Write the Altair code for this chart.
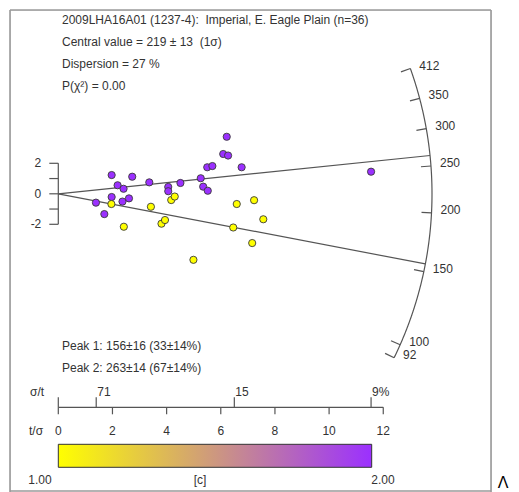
import altair as alt
import numpy as np
import pandas as pd

# ---------------- data ----------------
purple_tsig = [1.39, 1.70, 1.97, 2.19, 2.41, 1.97, 2.37, 2.61, 2.73, 3.36, 4.06, 4.06,
               4.51, 5.26, 5.35, 5.52, 5.50, 5.69, 6.09, 6.27, 6.22, 6.77, 11.55]
purple_z = [-0.58, -1.33, 1.23, 0.56, 0.33, -0.21, -0.51, -0.30, 1.12, 0.75, 0.45, 0.17,
            0.71, 1.02, 0.47, 0.20, 1.74, 1.82, 2.61, 2.51, 3.74, 1.74, 1.45]
yellow_tsig = [1.96, 2.42, 3.42, 3.81, 3.94, 4.17, 4.30, 4.99, 6.46, 6.59, 7.16, 7.23, 7.57]
yellow_z = [-0.67, -2.16, -0.85, -1.96, -1.72, -0.41, -0.18, -4.33, -2.21, -0.67, -3.23, -0.42, -1.67]

NB = "\u00a0"
title_lines = [
    "2009LHA16A01 (1237-4):" + NB + " Imperial, E. Eagle Plain (n=36)",
    "Central value = 219 \u00b1 13" + NB + " (1\u03c3)",
    "Dispersion = 27 %",
    "P(\u03c7\u00b2) = 0.00",
]
peak_lines = ["Peak 1: 156\u00b116 (33\u00b114%)", "Peak 2: 263\u00b114 (67\u00b114%)"]
central_age = 219
peak_ages = [156, 263]
arc_ticks = [92, 100, 150, 200, 250, 300, 350, 412]
z_ticks = [-2, -1, 0, 1, 2]
z_labels = ["2", "0", "-2"]
z_label_vals = [2, 0, -2]
tsig_ticks = [0, 2, 4, 6, 8, 10, 12]
sigt_pos = [1.4, 6.5, 11.55]
sigt_labels = ["71", "15", "9%"]
cbar_labels = ["1.00", "[c]", "2.00"]
c_range = ["#FFFF00", "#9B30FF"]
stray_glyph = "\u039b"

# ---------------- geometry / layout ----------------
FONT = "Liberation Sans"
TXT = "#333333"
LINE = "#555555"
FRAME = "#9a9a9a"
PX_X = 27.08      # px per t/sigma unit
PX_Y = 15.25      # px per z unit
OX, OY = 48.3, 183.8   # origin in plot-area pixels
W, H = 481, 482
R_ARC = 373.7

xs = alt.Scale(domain=[-OX / PX_X, (W - OX) / PX_X], nice=False, zero=False)
ys = alt.Scale(domain=[-(H - OY) / PX_Y, OY / PX_Y], nice=False, zero=False)


def arc_xy(age, r):
    L = np.log(np.asarray(age, dtype=float) / central_age)
    k = r / np.sqrt(PX_X ** 2 + (PX_Y * L) ** 2)
    return k, L * k


one = pd.DataFrame({"v": [0]})

# points
pts = pd.DataFrame({
    "tsig": purple_tsig + yellow_tsig,
    "z": purple_z + yellow_z,
    "c": [2] * len(purple_tsig) + [1] * len(yellow_tsig),
})

# arc curve
ages_curve = np.geomspace(min(arc_ticks), max(arc_ticks), 240)
ax_, ay_ = arc_xy(ages_curve, R_ARC)
arc_df = pd.DataFrame({"x": ax_, "y": ay_, "o": np.arange(len(ax_))})

# arc ticks
ox_, oy_ = arc_xy(arc_ticks, R_ARC)
ix_, iy_ = arc_xy(arc_ticks, R_ARC - 10)
tick_df = pd.DataFrame({"x": ix_, "y": iy_, "x2": ox_, "y2": oy_, "lab": [str(a) for a in arc_ticks]})

# peak lines
px_, py_ = arc_xy(peak_ages, R_ARC)
peak_df = pd.DataFrame({"x": [0.0] * len(peak_ages), "y": [0.0] * len(peak_ages), "x2": px_, "y2": py_})

layers = []

# frame (left, top, right, bottom)
layers.append(alt.Chart(one).mark_rule(color=FRAME, strokeWidth=1.6).encode(
    x=alt.value(0), y=alt.value(0), y2=alt.value(H)))
layers.append(alt.Chart(one).mark_rule(color=FRAME, strokeWidth=1.6).encode(
    x=alt.value(W), y=alt.value(0), y2=alt.value(H)))
layers.append(alt.Chart(one).mark_rule(color=FRAME, strokeWidth=1.6).encode(
    x=alt.value(0), x2=alt.value(W), y=alt.value(0)))
layers.append(alt.Chart(one).mark_rule(color=FRAME, strokeWidth=1.6).encode(
    x=alt.value(0), x2=alt.value(W), y=alt.value(H - 1)))

# peak lines from origin
layers.append(alt.Chart(peak_df).mark_rule(color=LINE, strokeWidth=1.2).encode(
    x=alt.X("x:Q", scale=xs, axis=None), y=alt.Y("y:Q", scale=ys, axis=None),
    x2="x2:Q", y2="y2:Q"))

# arc
layers.append(alt.Chart(arc_df).mark_line(color=LINE, strokeWidth=1.2).encode(
    x=alt.X("x:Q", scale=xs, axis=None), y=alt.Y("y:Q", scale=ys, axis=None), order="o:Q"))
layers.append(alt.Chart(tick_df).mark_rule(color=LINE, strokeWidth=1.2).encode(
    x=alt.X("x:Q", scale=xs, axis=None), y=alt.Y("y:Q", scale=ys, axis=None),
    x2="x2:Q", y2="y2:Q"))
layers.append(alt.Chart(tick_df).mark_text(align="left", baseline="middle", dx=9, dy=-3,
                                           font=FONT, fontSize=12, color=TXT).encode(
    x=alt.X("x2:Q", scale=xs, axis=None), y=alt.Y("y2:Q", scale=ys, axis=None), text="lab:N"))

# z axis (left)
zt = pd.DataFrame({"z": z_ticks})
layers.append(alt.Chart(pd.DataFrame({"a": [min(z_ticks)], "b": [max(z_ticks)]})).mark_rule(
    color=LINE, strokeWidth=1.2).encode(
    x=alt.value(OX), y=alt.Y("a:Q", scale=ys, axis=None), y2="b:Q"))
layers.append(alt.Chart(zt).mark_rule(color=LINE, strokeWidth=1.2).encode(
    x=alt.value(OX - 9), x2=alt.value(OX), y=alt.Y("z:Q", scale=ys, axis=None)))
layers.append(alt.Chart(pd.DataFrame({"z": z_label_vals, "lab": z_labels})).mark_text(
    align="right", baseline="middle", font=FONT, fontSize=12, color=TXT).encode(
    x=alt.value(OX - 17), y=alt.Y("z:Q", scale=ys, axis=None), text="lab:N"))

# points
layers.append(alt.Chart(pts).mark_point(filled=True, shape="circle", size=52, stroke="#3a3a3a",
                                        strokeWidth=0.9, opacity=1).encode(
    x=alt.X("tsig:Q", scale=xs, axis=None), y=alt.Y("z:Q", scale=ys, axis=None),
    fill=alt.Fill("c:Q", scale=alt.Scale(domain=[1, 2], range=c_range), legend=None)))

# bottom t/sigma axis
AXY = 397.3
layers.append(alt.Chart(pd.DataFrame({"a": [min(tsig_ticks)], "b": [max(tsig_ticks)]})).mark_rule(
    color=LINE, strokeWidth=1.2).encode(
    x=alt.X("a:Q", scale=xs, axis=None), x2="b:Q", y=alt.value(AXY)))
tt = pd.DataFrame({"t": tsig_ticks, "lab": [str(t) for t in tsig_ticks]})
layers.append(alt.Chart(tt).mark_rule(color=LINE, strokeWidth=1.2).encode(
    x=alt.X("t:Q", scale=xs, axis=None), y=alt.value(AXY), y2=alt.value(AXY + 7)))
layers.append(alt.Chart(tt).mark_text(align="center", baseline="middle", font=FONT, fontSize=12,
                                      color=TXT).encode(
    x=alt.X("t:Q", scale=xs, axis=None), y=alt.value(AXY + 24), text="lab:N"))
st = pd.DataFrame({"t": [0.0] + sigt_pos, "lab": [""] + sigt_labels})
layers.append(alt.Chart(st).mark_rule(color=LINE, strokeWidth=1.2).encode(
    x=alt.X("t:Q", scale=xs, axis=None), y=alt.value(AXY - 10), y2=alt.value(AXY)))
layers.append(alt.Chart(st).mark_text(align="left", baseline="middle", dx=1, font=FONT, fontSize=12,
                                      color=TXT).encode(
    x=alt.X("t:Q", scale=xs, axis=None), y=alt.value(AXY - 15), text="lab:N"))

# colour bar
layers.append(alt.Chart(one).mark_rect(
    stroke="#333333", strokeWidth=1,
    fill=alt.Gradient(gradient="linear",
                      stops=[alt.GradientStop(color=c_range[0], offset=0),
                             alt.GradientStop(color=c_range[1], offset=1)],
                      x1=0, x2=1, y1=0, y2=0)).encode(
    x=alt.value(OX), x2=alt.value(361.7), y=alt.value(434.3), y2=alt.value(457.3)))

# free text annotations (plot-area pixel positions)
ann = []
for i, s in enumerate(title_lines):
    ann.append((s, 52, 10 + 22 * i, "left"))
for i, s in enumerate(peak_lines):
    ann.append((s, 52, 336 + 22 * i, "left"))
ann.append(("\u03c3/t", 20, 382, "left"))
ann.append(("t/\u03c3", 19, 421, "left"))
for s, xx in zip(cbar_labels, [30, 190, 373]):
    ann.append((s, xx, 470, "center"))
ann_df = pd.DataFrame(ann, columns=["text", "px", "py", "al"])
for al in ["left", "center"]:
    sub = ann_df[ann_df["al"] == al]
    layers.append(alt.Chart(sub).mark_text(align=al, baseline="middle", font=FONT, fontSize=12,
                                           color=TXT).encode(
        x=alt.X("px:Q", scale=None), y=alt.Y("py:Q", scale=None), text="text:N"))

# stray glyph at the bottom-right, outside the frame
layers.append(alt.Chart(one).mark_text(align="center", baseline="bottom", font=FONT, fontSize=16,
                                       color="#000000").encode(
    x=alt.value(493), y=alt.value(481), text=alt.value(stray_glyph)))

chart = alt.layer(*layers).resolve_scale(x="independent", y="independent").properties(
    width=W, height=H,
    autosize=alt.AutoSizeParams(type="none"),
    padding={"left": 2, "top": 2, "right": 19, "bottom": 0},
).configure_view(strokeWidth=0).configure(background="white")

chart.save("out.html", embed_options={"renderer": "svg", "actions": False})
